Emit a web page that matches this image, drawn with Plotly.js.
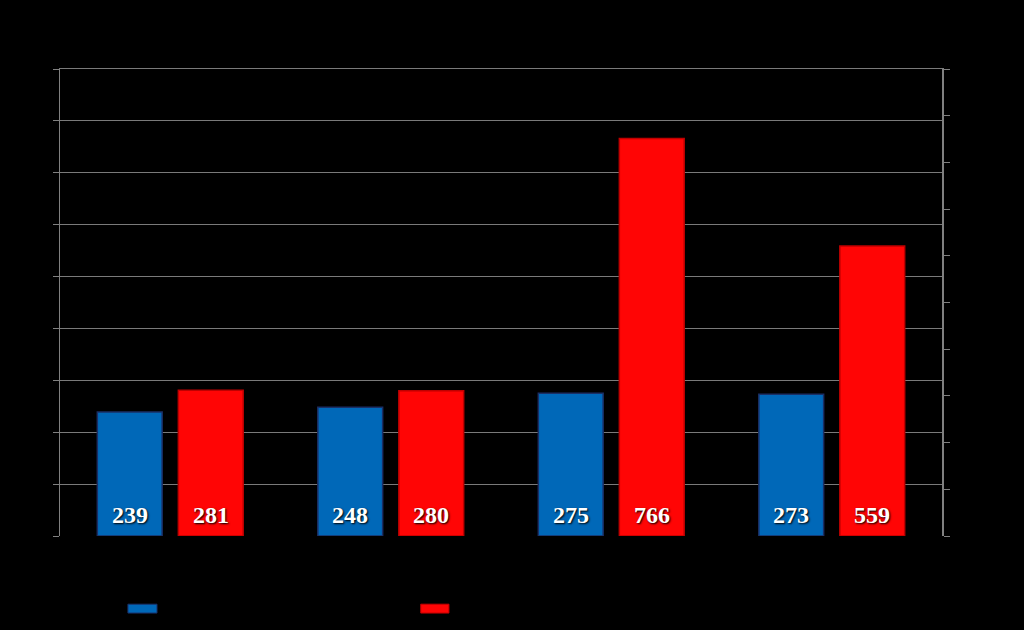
<!DOCTYPE html>
<html>
<head>
<meta charset="utf-8">
<script src="https://cdn.plot.ly/plotly-3.0.1.min.js"></script>
<style>html,body{margin:0;padding:0;background:#000;}#chart{width:1024px;height:630px;}</style>
</head>
<body>
<div id="chart"></div>
<script>
var categories = ['A', 'B', 'C', 'D'];
var seriesBlue = [239, 248, 275, 273];
var seriesRed = [281, 280, 766, 559];
var blueName = 'Series 1';
var redName = 'Series 2';
var leftTicks = [0, 100, 200, 300, 400, 500, 600, 700, 800, 900];
var rightTicks = [0, 1, 2, 3, 4, 5, 6, 7, 8, 9, 10];

var blueColor = '#0068b8';
var redColor = '#ff0505';
var labelFont = {family: 'Liberation Serif, DejaVu Serif, serif', size: 24, color: '#ffffff', weight: 'bold', shadow: '1px 1px 2px #000000'};

var traces = [
  {
    type: 'bar', name: blueName, x: categories, y: seriesBlue,
    marker: {color: blueColor, line: {color: '#1a2f66', width: 1.5}},
    hoverinfo: 'skip'
  },
  {
    type: 'bar', name: redName, x: categories, y: seriesRed,
    marker: {color: redColor, line: {color: '#c00000', width: 1.5}},
    hoverinfo: 'skip'
  },
  {
    type: 'scatter', x: categories, y: [null, null, null, null], yaxis: 'y2',
    showlegend: false, hoverinfo: 'skip'
  }
];

// value labels at the base of each bar, anchored to the category position on the axis
var annotations = [];
categories.forEach(function (c, i) {
  annotations.push({x: c, y: 0, xref: 'x', yref: 'y', text: String(seriesBlue[i]),
    xshift: -40.5, yshift: 6, yanchor: 'bottom', showarrow: false, font: labelFont});
  annotations.push({x: c, y: 0, xref: 'x', yref: 'y', text: String(seriesRed[i]),
    xshift: 40.5, yshift: 6, yanchor: 'bottom', showarrow: false, font: labelFont});
});

var layout = {
  width: 1024, height: 630,
  paper_bgcolor: '#000000', plot_bgcolor: '#000000',
  margin: {l: 60, r: 82, t: 69, b: 94},
  barmode: 'group', bargap: 0.265, bargroupgap: 0.2,
  showlegend: false,
  font: {family: 'Liberation Serif, serif', color: '#000000'},
  xaxis: {
    type: 'category', side: 'top', showgrid: false, zeroline: false,
    showline: true, linecolor: '#7a7a7a', linewidth: 1,
    showticklabels: false, ticks: ''
  },
  yaxis: {
    range: [0, 900], tickvals: leftTicks, showticklabels: false,
    ticks: 'outside', ticklen: 6, tickcolor: '#808080', tickwidth: 1,
    showgrid: true, gridcolor: '#7a7a7a', gridwidth: 1,
    zeroline: false, showline: true, linecolor: '#808080', linewidth: 1.5
  },
  yaxis2: {
    range: [0, 10], tickvals: rightTicks, overlaying: 'y', side: 'right',
    showticklabels: false, ticks: 'outside', ticklen: 6, tickcolor: '#808080', tickwidth: 1,
    showgrid: false, zeroline: false, showline: true, linecolor: '#808080', linewidth: 1.5
  },
  annotations: annotations,
  shapes: [
    {type: 'rect', xref: 'paper', yref: 'paper', x0: 0.077, x1: 0.110, y0: -0.165, y1: -0.146,
     fillcolor: blueColor, line: {color: '#1a2f66', width: 1}},
    {type: 'rect', xref: 'paper', yref: 'paper', x0: 0.409, x1: 0.441, y0: -0.165, y1: -0.146,
     fillcolor: redColor, line: {color: '#c00000', width: 1}}
  ]
};

Plotly.newPlot('chart', traces, layout, {displayModeBar: false, staticPlot: true});
</script>
</body>
</html>
